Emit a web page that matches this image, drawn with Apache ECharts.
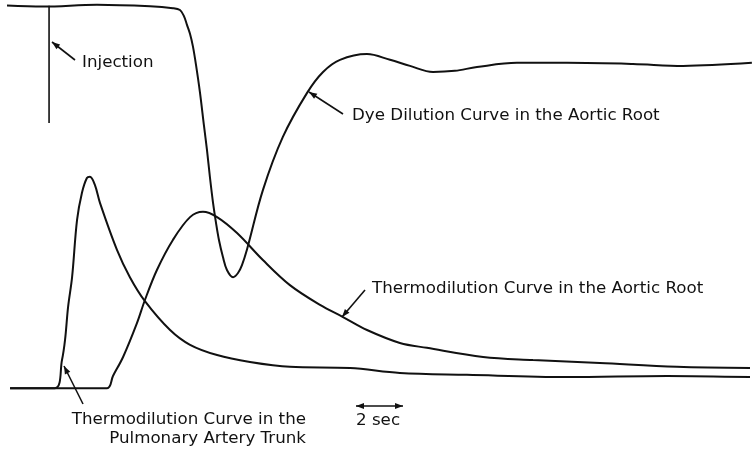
<!DOCTYPE html>
<html>
<head>
<meta charset="utf-8">
<script src="https://cdn.jsdelivr.net/npm/echarts@6/dist/echarts.min.js"></script>
<style>
    html, body { margin: 0; padding: 0; background: #fff; }
    #chart { width: 754px; height: 454px; }
</style>
</head>
<body>
<div id="chart"></div>
<script>
    // time in seconds, signal in relative units (baseline = 0, full dye = 100)
    var dyeTime = [0, 1.53, 3.83, 6.09, 7.06, 7.36, 7.53, 7.66, 7.79, 7.91, 8.04, 8.21, 8.38, 8.51, 8.64,
        8.77, 8.89, 9.02, 9.19, 9.36, 9.62, 9.83, 10.0, 10.21, 10.89, 11.74,
        12.77, 13.45, 14.17, 15.32, 16.3, 17.15, 18.13, 19.06, 20.0, 21.7, 23.83,
        26.64, 28.77, 31.7];
    var dyeValue = [100.4, 100.1, 100.6, 100.2, 99.7, 99.2, 97.6, 95.3, 92.9, 89.7, 84.9, 77.6, 68.9, 62.4, 55.0,
        48.4, 43.4, 38.7, 34.2, 30.8, 28.9, 30.0, 32.1, 36.1, 51.8, 65.8,
        77.4, 82.9, 86.1, 87.6, 86.1, 84.5, 82.9, 83.2, 84.2, 85.3, 85.3,
        85.0, 84.5, 85.3];

    var paTime = [0.13, 2.04, 2.34, 2.47, 2.6, 2.77, 2.98, 3.19, 3.40, 3.53, 3.74, 3.96, 4.68, 5.23,
        5.87, 6.94, 7.79, 8.94, 10.34, 12.04, 14.6, 16.72, 19.57, 23.83, 28.09, 31.62];
    var paValue = [-0.3, -0.3, 7.1, 12.4, 21.1, 28.9, 43.9, 51.1, 55.0, 55.3, 53.2, 48.4, 36.1, 28.9,
        22.6, 15.0, 11.1, 8.4, 6.6, 5.3, 5.0, 3.7, 3.2, 2.6, 2.9, 2.6];

    var aoTime = [0.13, 4.26, 4.51, 4.94, 5.53, 5.87, 6.38, 7.06, 7.79, 8.34, 8.94, 9.79, 10.89,
        12.04, 13.32, 14.3, 15.32, 16.72, 17.87, 20.26, 22.38, 25.23, 28.51, 31.62];
    var aoValue = [-0.3, -0.3, 2.9, 7.9, 16.8, 22.9, 30.8, 38.7, 44.7, 46.1, 44.7, 40.5, 33.4,
        26.8, 21.6, 18.4, 15.0, 11.6, 10.3, 7.9, 7.1, 6.3, 5.3, 5.0];

    var injectionTime = 1.79;
    var injectionRange = [100.3, 69.5];

    function pairs(xs, ys) {
        return xs.map(function (x, i) { return [x, ys[i]]; });
    }

    var ink = '#111';

    // arrow: shaft plus filled head(s), pixel coordinates
    function arrow(x1, y1, x2, y2, both) {
        var dx = x2 - x1, dy = y2 - y1;
        var len = Math.sqrt(dx * dx + dy * dy);
        var ux = dx / len, uy = dy / len;
        var L = 8, W = 3;
        function head(tx, ty, sx, sy) {
            return {
                type: 'polygon',
                shape: { points: [[tx, ty],
                    [tx - sx * L - sy * W, ty - sy * L + sx * W],
                    [tx - sx * L + sy * W, ty - sy * L - sx * W]] },
                style: { fill: ink }
            };
        }
        var items = [{
            type: 'line',
            shape: { x1: x1, y1: y1, x2: x2, y2: y2 },
            style: { stroke: ink, lineWidth: 1.6 }
        }, head(x2, y2, ux, uy)];
        if (both) items.push(head(x1, y1, -ux, -uy));
        return items;
    }

    function label(text, x, y, align) {
        return {
            type: 'text',
            x: x, y: y,
            style: {
                text: text, fill: ink,
                font: '16.7px "DejaVu Sans"',
                align: align || 'left', verticalAlign: 'middle'
            }
        };
    }

    var chart = echarts.init(document.getElementById('chart'));

    var lineSeries = function (name, data) {
        return {
            name: name,
            type: 'line',
            data: data,
            smooth: 0.35,
            showSymbol: false,
            clip: false,
            lineStyle: { color: ink, width: 2 }
        };
    };

    var graphics = []
        .concat(arrow(75, 60, 52, 42))
        .concat(arrow(343, 114, 309, 92))
        .concat(arrow(365, 290, 342, 317))
        .concat(arrow(83, 404, 64, 366))
        .concat(arrow(356, 406, 403, 406, true));
    graphics.push(label('Injection', 82, 63));
    graphics.push(label('Dye Dilution Curve in the Aortic Root', 352, 116));
    graphics.push(label('Thermodilution Curve in the Aortic Root', 372, 289));
    graphics.push(label('Thermodilution Curve in the', 306, 420, 'right'));
    graphics.push(label('Pulmonary Artery Trunk', 306, 439, 'right'));
    graphics.push(label('2 sec', 356, 421));

    chart.setOption({
        animation: false,
        grid: { left: 7, right: 0, top: 7, bottom: 48 },
        xAxis: { type: 'value', min: 0, max: 31.79, show: false },
        yAxis: { type: 'value', min: -5, max: 100, show: false },
        series: [
            lineSeries('Dye Dilution Curve in the Aortic Root', pairs(dyeTime, dyeValue)),
            lineSeries('Thermodilution Curve in the Pulmonary Artery Trunk', pairs(paTime, paValue)),
            lineSeries('Thermodilution Curve in the Aortic Root', pairs(aoTime, aoValue)),
            {
                name: 'Injection',
                type: 'line',
                data: [[injectionTime, injectionRange[0]], [injectionTime, injectionRange[1]]],
                showSymbol: false,
                clip: false,
                lineStyle: { color: ink, width: 1.6 }
            }
        ],
        graphic: graphics
    });
</script>
</body>
</html>
